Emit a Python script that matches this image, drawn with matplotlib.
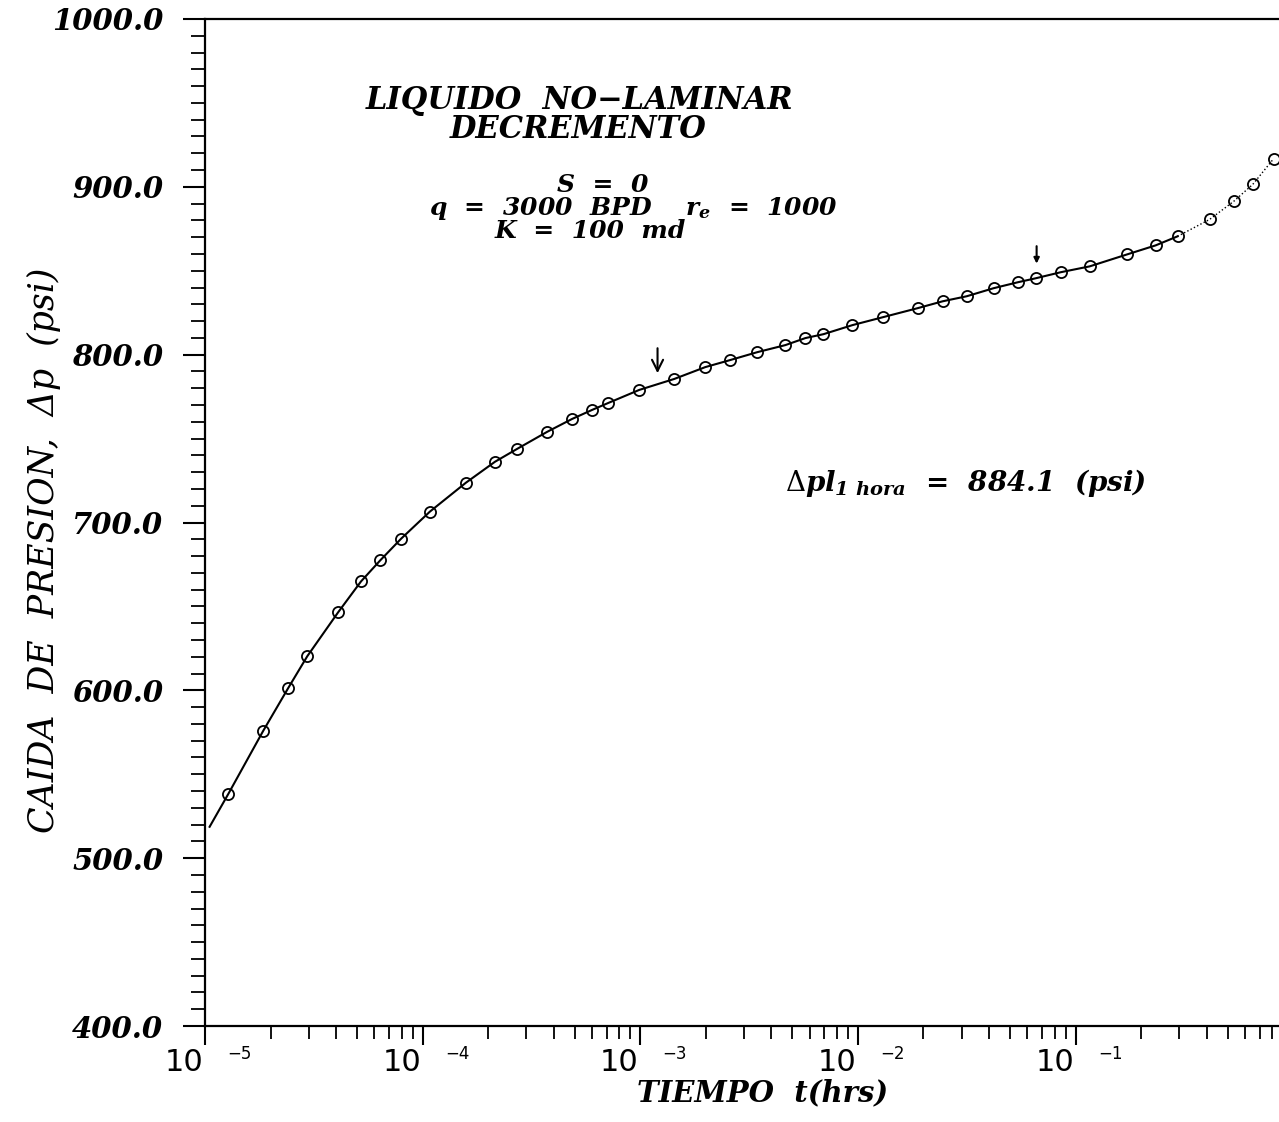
import matplotlib
matplotlib.use('Agg')
import matplotlib.pyplot as plt
from matplotlib.ticker import LogLocator, MultipleLocator, FormatStrFormatter, NullFormatter

plt.rcParams['mathtext.fontset'] = 'custom'
plt.rcParams['mathtext.it'] = 'DejaVu Serif:italic:bold'
plt.rcParams['mathtext.rm'] = 'DejaVu Serif'
plt.rcParams['mathtext.bf'] = 'DejaVu Serif:italic:bold'

# datos: tiempo (hrs) y caida de presion (psi)
t_hrs = [1.28e-5, 1.85e-5, 2.41e-5, 2.95e-5, 4.09e-5, 5.21e-5, 6.38e-5, 7.97e-5,
         1.08e-4, 1.58e-4, 2.15e-4, 2.72e-4, 3.73e-4, 4.86e-4, 6.01e-4, 7.12e-4,
         9.89e-4, 1.43e-3, 1.99e-3, 2.59e-3, 3.45e-3, 4.64e-3, 5.74e-3, 6.94e-3,
         9.43e-3, 1.30e-2, 1.88e-2, 2.45e-2, 3.16e-2, 4.20e-2, 5.41e-2, 6.55e-2,
         8.53e-2, 0.116, 0.173, 0.233, 0.294, 0.413, 0.532, 0.651, 0.813]
dp_psi = [538.3, 575.8, 601.3, 620.3, 646.5, 664.9, 677.4, 690.4,
          706.5, 723.7, 736.2, 743.9, 754.0, 761.7, 767.1, 771.2,
          779.0, 785.5, 792.6, 796.8, 801.5, 805.7, 809.9, 812.2,
          817.6, 822.3, 827.7, 831.8, 834.8, 839.6, 843.1, 845.5,
          849.1, 852.6, 859.8, 865.1, 870.5, 880.6, 891.3, 901.4, 916.8]

# inicio de la curva continua
t_start = 1.05e-5
dp_start = 518.7
n_solid = 37  # puntos unidos con linea continua, el resto punteado

# flechas (x, p punta, p cola)
arrows = [(1.2e-3, 787.3, 805.5), (6.62e-2, 852.6, 866.3)]

decades = [-5, -4, -3, -2, -1]

fig = plt.figure(figsize=(12.79, 11.22), dpi=100)
ax = fig.add_axes([205 / 1279, 1 - 1026 / 1122, 1 - 205 / 1279, 1007 / 1122])

ax.plot([t_start] + t_hrs[:n_solid], [dp_start] + dp_psi[:n_solid], color='black', lw=1.5)
ax.plot(t_hrs[n_solid - 1:], dp_psi[n_solid - 1:], color='black', lw=1.0, ls=':')
ax.plot(t_hrs, dp_psi, ls='none', marker='o', ms=8, mfc='none', mec='black', mew=1.3)

ax.set_xscale('log')
ax.set_xlim(1e-5, 0.86)
ax.set_ylim(400, 1000)

ax.spines['right'].set_visible(False)
for s in ['left', 'bottom', 'top']:
    ax.spines[s].set_linewidth(1.6)

ax.yaxis.set_major_locator(MultipleLocator(100))
ax.yaxis.set_minor_locator(MultipleLocator(10))
ax.yaxis.set_major_formatter(FormatStrFormatter('%.1f'))
ax.xaxis.set_major_locator(LogLocator(base=10, numticks=20))
ax.xaxis.set_minor_locator(LogLocator(base=10, subs=range(2, 10), numticks=20))
ax.xaxis.set_major_formatter(NullFormatter())
ax.xaxis.set_minor_formatter(NullFormatter())

ax.tick_params(axis='y', which='major', direction='out', length=16, width=1.5, pad=14,
               labelsize=21)
ax.tick_params(axis='y', which='minor', direction='out', length=10, width=1.3)
ax.tick_params(axis='x', which='major', direction='out', length=14, width=1.5)
ax.tick_params(axis='x', which='minor', direction='out', length=9, width=1.3)
for lab in ax.get_yticklabels():
    lab.set_fontfamily('DejaVu Serif')
    lab.set_fontweight('bold')
    lab.set_fontstyle('italic')

# etiquetas del eje x: 10 con exponente separado
for k in decades:
    ax.annotate('10', xy=(10.0 ** k, 0), xycoords=('data', 'axes fraction'),
                xytext=(-1, -26), textcoords='offset points', ha='right', va='center',
                fontsize=22, family='DejaVu Sans', annotation_clip=False)
    ax.annotate('\u2212%d' % abs(k), xy=(10.0 ** k, 0), xycoords=('data', 'axes fraction'),
                xytext=(16, -20), textcoords='offset points', ha='left', va='center',
                fontsize=12, family='DejaVu Sans', annotation_clip=False)

serif_bi = dict(family='DejaVu Serif', fontweight='bold', fontstyle='italic')

fig.text(763 / 1279, 1 - 1093 / 1122, 'TIEMPO  t(hrs)', ha='center', va='center',
         fontsize=21, **serif_bi)
fig.text(44 / 1279, 1 - 550 / 1122, 'CAIDA  DE  PRESION,  \u0394p  (psi)', rotation=90,
         ha='center', va='center', fontsize=25, family='DejaVu Serif', fontstyle='italic')

# bloque de texto con los datos del caso
fig.text(580 / 1279, 1 - 100 / 1122, 'LIQUIDO  NO\u2212LAMINAR', ha='center', va='center',
         fontsize=22, **serif_bi)
fig.text(578 / 1279, 1 - 130 / 1122, 'DECREMENTO', ha='center', va='center',
         fontsize=22, **serif_bi)
fig.text(603 / 1279, 1 - 185 / 1122, 'S  =  0', ha='center', va='center',
         fontsize=18, **serif_bi)
fig.text(633 / 1279, 1 - 208 / 1122, 'q  =  3000  BPD    $r_e$  =  1000', ha='center',
         va='center', fontsize=18, **serif_bi)
fig.text(590 / 1279, 1 - 231 / 1122, 'K  =  100  md', ha='center', va='center',
         fontsize=18, **serif_bi)
fig.text(785 / 1279, 1 - 483 / 1122, r'$\Delta pl_{\mathbf{1}\ hora}$  =  884.1  (psi)',
         ha='left', va='center', fontsize=20, **serif_bi)

for i, (x, p_tip, p_tail) in enumerate(arrows):
    ax.annotate('', xy=(x, p_tip), xytext=(x, p_tail),
                arrowprops=dict(arrowstyle='->' if i == 0 else '-|>', color='black', lw=1.5,
                                mutation_scale=20 if i == 0 else 8))

fig.savefig('out.png', dpi=100)
